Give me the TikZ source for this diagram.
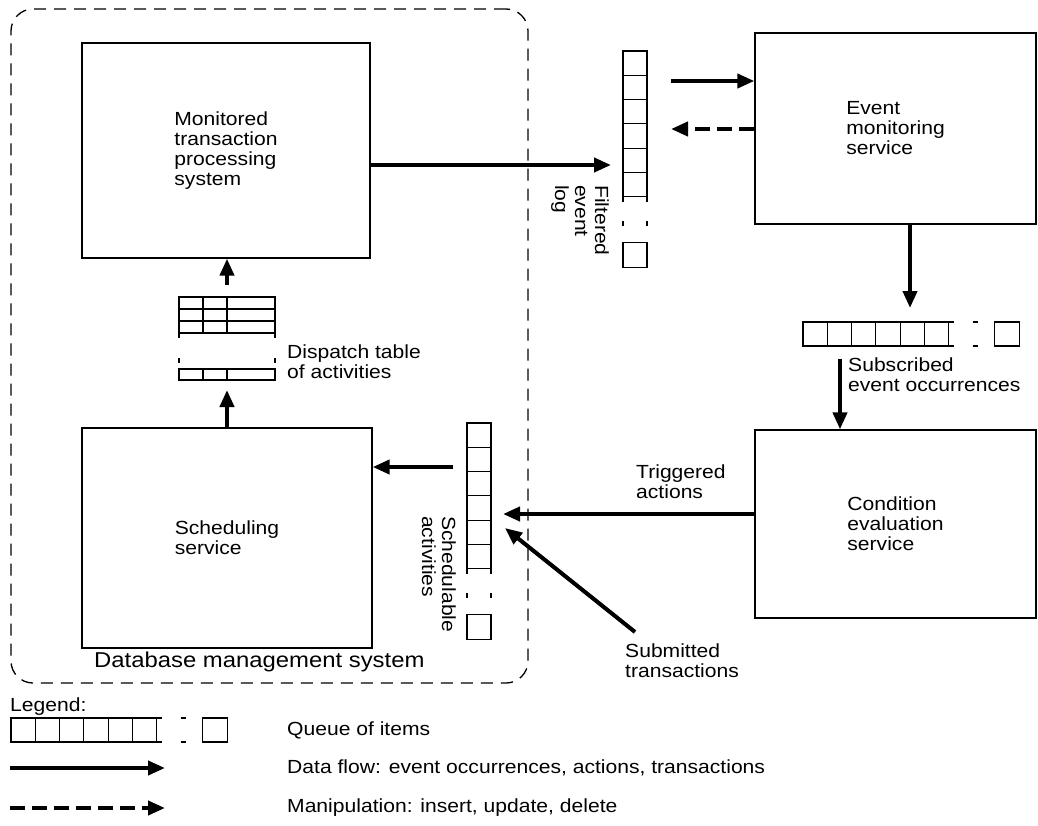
\documentclass[tikz,border=0pt]{standalone}
\usepackage{fontspec}
\setmainfont{Liberation Sans}[FakeStretch=1.11]
\usetikzlibrary{arrows.meta,calc}

% horizontal queue of items: name, x, y of the top left corner
\newcommand{\hqueue}[3]{%
  \node[qarea, minimum width=216.1pt, minimum height=24pt, anchor=north west] (#1) at (#2,#3) {};
  \foreach \i in {0,...,5}{\draw[cell] ({#2+\i*24.3},#3) rectangle ++(24.3,24);}
  \draw[cell] ({#2+145.8},#3) -- ++(5,0) ({#2+145.8},{#3+24}) -- ++(5,0)
              ({#2+169.8},#3) -- ++(5,0) ({#2+169.8},{#3+24}) -- ++(5,0);
  \draw[cell] ({#2+191.8},#3) rectangle ++(24.3,24);
}
% vertical queue of items: name, x, y of the top left corner
\newcommand{\vqueue}[3]{%
  \node[qarea, minimum width=24pt, minimum height=216.1pt, anchor=north west] (#1) at (#2,#3) {};
  \foreach \i in {0,...,5}{\draw[cell] (#2,{#3+\i*24.3}) rectangle ++(24,24.3);}
  \draw[cell] (#2,{#3+145.8}) -- ++(0,5) ({#2+24},{#3+145.8}) -- ++(0,5)
              (#2,{#3+169.8}) -- ++(0,5) ({#2+24},{#3+169.8}) -- ++(0,5);
  \draw[cell] (#2,{#3+191.8}) rectangle ++(24,24.3);
}

\tikzset{
  every node/.style={font=\fontsize{19}{20}\selectfont, inner sep=0pt},
  box/.style={draw, line width=1.3pt, align=left},
  qarea/.style={inner sep=0pt, outer sep=0pt},
  cell/.style={line width=1.1pt},
  flow/.style={line width=4pt, -{Triangle[length=17pt,width=14pt]}},
  manip/.style={flow, dash pattern=on 15pt off 7pt},
  label/.style={align=left, anchor=west},
  dbmsframe/.style={draw, line width=1.3pt, dash pattern=on 12pt off 8pt, rounded corners=22pt},
}

\begin{document}
\begin{tikzpicture}[x=1pt, y=-1pt]
\useasboundingbox (0,0) rectangle (1038,825);

% database management system frame
\node[dbmsframe, minimum width=517pt, minimum height=674pt] (dbms) at (269.5,346) {};
\node[label, font=\fontsize{21.5}{23}\selectfont] (dbmslabel) at (94,662) {Database management system};

% service boxes
\node[box, minimum width=288pt, minimum height=215pt] (mon) at (226,150.5)
  {Monitored\\transaction\\processing\\system};
\node[box, minimum width=290pt, minimum height=220pt] (sched) at (227,538)
  {Scheduling\\service};
\node[box, minimum width=281pt, minimum height=191pt] (evt) at (895.5,128.5)
  {Event\\monitoring\\service};
\node[box, minimum width=281pt, minimum height=188pt] (cond) at (895.5,524)
  {Condition\\evaluation\\service};

% queues
\vqueue{flog}{623}{51}
\hqueue{subq}{803}{322}
\vqueue{schq}{467}{423}

% dispatch table of activities
\node[qarea, minimum width=96pt, minimum height=83pt] (disp) at (227,338.5) {};
\draw[cell] (179,297) rectangle (275,333);
\draw[cell] (179,309) -- (275,309) (179,321) -- (275,321);
\draw[cell] (203,297) -- (203,333) (227,297) -- (227,333);
\draw[cell] (179,333) -- (179,338) (275,333) -- (275,338)
            (179,358) -- (179,363) (275,358) -- (275,363);
\draw[cell] (179,369) rectangle (275,380);
\draw[cell] (203,369) -- (203,380) (227,369) -- (227,380);

% labels
\node[label] (disptext) at (287,362) {Dispatch table\\of activities};
\node[label] (subtext) at (848,375) {Subscribed\\event occurrences};
\node[label] (trigtext) at (636,482) {Triggered\\actions};
\node[label] (submtext) at (625,661) {Submitted\\transactions};
\node[align=left, rotate=-90, anchor=north west] (flogtext) at (609,185) {Filtered\\event\\log};
\node[align=left, rotate=-90, anchor=north west] (schqtext) at (456,516) {Schedulable\\activities};

% data flows
\draw[flow, shorten >=12pt] (mon.east |- 0,165) -- (flog.west |- 0,165);
\draw[flow, shorten <=24pt] (flog.east |- 0,81) -- (evt.west |- 0,81);
\draw[manip, shorten >=24pt] (evt.west |- 0,129) -- (flog.east |- 0,129);
\draw[flow, shorten >=14pt] (evt.south -| 910,0) -- (subq.north -| 910,0);
\draw[flow, shorten <=13pt] (subq.south -| 840,0) -- (cond.north -| 840,0);
\draw[flow, shorten >=12pt] (cond.west |- 0,514) -- (schq.east |- 0,514);
\coordinate (submtail) at (635,632);
\draw[flow] (submtail) -- ($(schq.east |- 0,528)+(14,0)$);
\draw[flow, shorten <=14pt] (schq.west |- 0,467) -- (sched.east |- 0,467);
\draw[flow, shorten >=10pt] (sched.north -| disp.south) -- (disp.south);
\draw[flow, shorten <=12pt] (disp.north) -- (mon.south -| disp.north);

% legend
\node[label] (legend) at (10,707) {Legend:};
\hqueue{legq}{11}{718}
\node[label] (legqtext) at (287,730) {Queue of items};
\coordinate (lflowa) at (10,768);
\coordinate (lflowb) at (165,768);
\draw[flow] (lflowa) -- (lflowb);
\node[label] (lflowtext) at (287,768) {Data flow: event occurrences, actions, transactions};
\coordinate (lmanipa) at (10,808);
\coordinate (lmanipb) at (165,808);
\draw[manip] (lmanipa) -- (lmanipb);
\node[label] (lmaniptext) at (287,808) {Manipulation: insert, update, delete};
\end{tikzpicture}
\end{document}
